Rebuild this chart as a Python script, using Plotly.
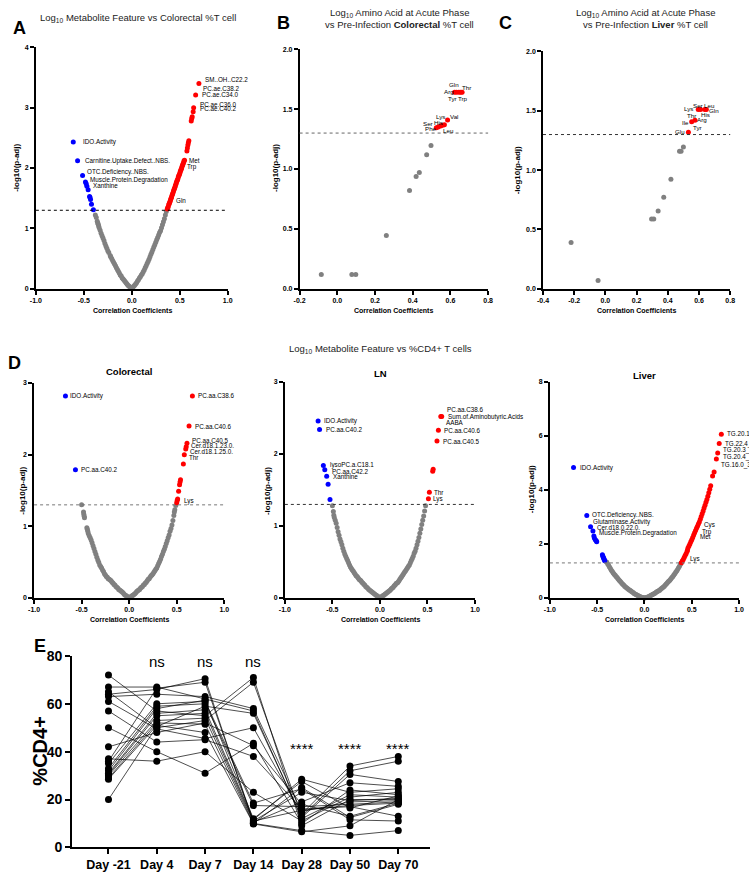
import plotly.graph_objects as go

W, H = 749, 875
FONT = "Liberation Sans, Arial, Helvetica, sans-serif"
GRAY, RED, BLUE = "#808080", "#ff0000", "#0000ff"
THRESH = 1.3  # -log10(0.05)

# ---------------- Panel A : Log10 metabolite feature vs colorectal %T cell ----------------
A_gray = [(-0.38,1.22),(-0.37,1.18),(-0.36,1.12),(-0.355,1.09),(-0.35,1.07),(-0.345,1.04),(-0.34,1.01),(-0.33,0.97),
          (-0.32,0.92),(-0.31,0.88),(-0.30,0.84),(-0.29,0.8),(-0.28,0.75),(-0.27,0.71),(-0.26,0.67),(-0.25,0.63),
          (-0.24,0.6),(-0.225,0.55),(-0.22,0.53),(-0.21,0.5),(-0.20,0.47),(-0.19,0.44),(-0.18,0.41),(-0.17,0.38),
          (-0.16,0.35),(-0.15,0.32),(-0.14,0.29),(-0.13,0.26),(-0.12,0.23),(-0.11,0.21),(-0.10,0.18),(-0.09,0.16),
          (-0.08,0.14),(-0.07,0.12),(-0.06,0.1),(-0.05,0.08),(-0.04,0.06),(-0.03,0.045),(-0.02,0.03),(-0.01,0.015),
          (0.0,0.0),(0.01,0.02),(0.02,0.04),(0.03,0.06),(0.04,0.08),(0.05,0.1),(0.06,0.13),(0.07,0.15),(0.08,0.18),
          (0.09,0.2),(0.10,0.23),(0.11,0.25),(0.12,0.28),(0.13,0.31),(0.14,0.35),(0.15,0.38),(0.16,0.42),(0.17,0.45),
          (0.18,0.49),(0.19,0.53),(0.20,0.57),(0.21,0.61),(0.22,0.65),(0.23,0.69),(0.24,0.73),(0.25,0.77),(0.26,0.81),
          (0.27,0.85),(0.28,0.89),(0.29,0.93),(0.30,0.96),(0.31,1.01),(0.32,1.06),(0.33,1.11),(0.34,1.16),(0.35,1.22),
          (0.36,1.28)]
A_red = [(0.37,1.32),(0.375,1.34),(0.38,1.36),(0.385,1.39),(0.39,1.41),(0.395,1.43),(0.40,1.45),(0.405,1.48),
         (0.41,1.5),(0.415,1.52),(0.42,1.55),(0.425,1.57),(0.43,1.59),(0.435,1.62),(0.44,1.64),(0.445,1.66),
         (0.45,1.68),(0.455,1.71),(0.46,1.73),(0.465,1.76),(0.47,1.78),(0.475,1.8),(0.48,1.82),(0.485,1.85),
         (0.49,1.87),(0.495,1.89),(0.50,1.91),(0.505,1.94),(0.51,1.96),(0.515,1.98),(0.52,2.0),(0.525,2.03),
         (0.53,2.05),(0.535,2.07),(0.54,2.09),(0.545,2.12),(0.55,2.13),(0.575,2.28),(0.58,2.33),(0.585,2.38),
         (0.59,2.42),(0.595,2.45),(0.62,2.78),(0.625,2.82),(0.63,2.85),(0.64,2.93),(0.645,3.0),(0.666,3.21),(0.70,3.40)]
A_blue = [(-0.61,2.43),(-0.565,2.12),(-0.513,1.875),(-0.483,1.77),(-0.475,1.74),(-0.468,1.7),(-0.455,1.64),
          (-0.44,1.53),(-0.435,1.51),(-0.43,1.48),(-0.42,1.4),(-0.40,1.31)]
A_lab_names = ["IDO.Activity", "Carnitine.Uptake.Defect..NBS.", "OTC.Deficiency..NBS.", "Muscle.Protein.Degradation",
               "Xanthine", "SM..OH..C22.2", "PC.ae.C38.2", "PC.ae.C34.0", "PC.ae.C36.0", "PC.ae.C40.2", "Met", "Trp", "Gln"]
A_lab_r = [-0.61, -0.565, -0.513, -0.483, -0.455, 0.70, 0.666, 0.666, 0.645, 0.64, 0.545, 0.545, 0.39]
A_lab_y = [2.43, 2.12, 1.875, 1.77, 1.64, 3.40, 3.21, 3.21, 3.0, 2.93, 2.12, 2.12, 1.41]

# ---------------- Panel B : amino acids, colorectal ----------------
B_gray = [(-0.085,0.12),(0.077,0.12),(0.098,0.12),(0.26,0.445),(0.383,0.82),(0.418,0.937),(0.435,0.97),
          (0.474,1.12),(0.497,1.197)]
B_red = [(0.525,1.345),(0.535,1.35),(0.548,1.36),(0.558,1.365),(0.568,1.37),(0.585,1.41),
         (0.622,1.64),(0.632,1.64),(0.645,1.64),(0.655,1.64),(0.662,1.64)]
B_lab_names = ["Gln", "Thr", "Arg", "Tyr", "Trp", "Lys", "Val", "Ser", "His", "Phe", "Leu"]
B_lab_r = [0.632, 0.662, 0.622, 0.645, 0.655, 0.548, 0.585, 0.525, 0.535, 0.525, 0.568]
B_lab_y = [1.64, 1.64, 1.64, 1.64, 1.64, 1.36, 1.41, 1.345, 1.35, 1.345, 1.37]

# ---------------- Panel C : amino acids, liver ----------------
C_gray = [(-0.22,0.39),(-0.047,0.07),(0.296,0.588),(0.31,0.588),(0.338,0.656),(0.374,0.772),(0.42,0.924),
          (0.475,1.159),(0.485,1.159),(0.5,1.195)]
C_red = [(0.532,1.319),(0.553,1.407),(0.574,1.42),(0.595,1.512),(0.61,1.512),(0.637,1.512),(0.647,1.512)]
C_lab_names = ["Lys", "Ser", "Leu", "His", "Gln", "Thr", "Arg", "Ile", "Tyr", "Glu"]
C_lab_r = [0.595, 0.61, 0.647, 0.647, 0.647, 0.553, 0.574, 0.553, 0.574, 0.532]
C_lab_y = [1.512, 1.512, 1.512, 1.512, 1.512, 1.407, 1.42, 1.407, 1.42, 1.319]

# ---------------- Panel D : metabolite feature vs %CD4+ T cells ----------------
Dc_gray = [(-0.5,1.3),(-0.48,1.2),(-0.477,1.17),(-0.473,1.14),(-0.47,1.12),(-0.445,0.98),(-0.44,0.96),(-0.435,0.93),
           (-0.43,0.9),(-0.42,0.87),(-0.41,0.84),(-0.40,0.81),(-0.39,0.77),(-0.38,0.73),(-0.37,0.69),(-0.36,0.65),
           (-0.35,0.61),(-0.34,0.57),(-0.33,0.53),(-0.32,0.5),(-0.31,0.46),(-0.30,0.44),(-0.29,0.42),(-0.28,0.39),
           (-0.27,0.37),(-0.26,0.34),(-0.25,0.32),(-0.24,0.3),(-0.23,0.29),(-0.22,0.27),(-0.21,0.26),(-0.20,0.25),
           (-0.19,0.24),(-0.18,0.22),(-0.17,0.21),(-0.16,0.19),(-0.15,0.18),(-0.14,0.16),(-0.13,0.15),(-0.12,0.14),
           (-0.11,0.12),(-0.10,0.11),(-0.09,0.1),(-0.08,0.09),(-0.07,0.08),(-0.06,0.065),(-0.05,0.05),(-0.04,0.04),
           (-0.03,0.03),(-0.02,0.02),(-0.01,0.01),(0.0,0.0),
           (0.01,0.01),(0.02,0.02),(0.03,0.03),(0.04,0.04),(0.05,0.05),(0.06,0.06),(0.07,0.075),(0.08,0.09),
           (0.09,0.1),(0.10,0.11),(0.11,0.12),(0.12,0.14),(0.13,0.15),(0.14,0.16),(0.15,0.18),(0.16,0.19),
           (0.17,0.21),(0.18,0.22),(0.19,0.24),(0.20,0.26),(0.21,0.27),(0.22,0.29),(0.23,0.31),(0.24,0.32),
           (0.25,0.34),(0.26,0.36),(0.27,0.38),(0.28,0.4),(0.29,0.42),(0.30,0.45),(0.31,0.48),(0.32,0.51),
           (0.33,0.54),(0.34,0.58),(0.35,0.61),(0.36,0.65),(0.37,0.68),(0.38,0.72),(0.39,0.76),(0.40,0.8),
           (0.41,0.84),(0.42,0.88),(0.43,0.93),(0.44,0.97),(0.45,1.02),(0.46,1.08),(0.47,1.15),(0.475,1.2),
           (0.48,1.23),(0.49,1.29)]
Dc_red = [(0.50,1.33),(0.505,1.36),(0.51,1.38),(0.52,1.49),(0.53,1.58),(0.535,1.62),(0.54,1.65),(0.57,1.87),
          (0.58,2.0),(0.595,2.08),(0.6,2.11),(0.608,2.16),(0.63,2.4),(0.665,2.82)]
Dc_blue = [(-0.67,2.82),(-0.565,1.79)]
Dc_lab_names = ["IDO.Activity", "PC.aa.C40.2", "PC.aa.C38.6", "PC.aa.C40.6", "PC.aa.C40.5", "Cer.d18.1.23.0.",
                "Cer.d18.1.25.0.", "Thr", "Lys"]
Dc_lab_r = [-0.67, -0.565, 0.665, 0.63, 0.608, 0.6, 0.595, 0.58, 0.505]
Dc_lab_y = [2.82, 1.79, 2.82, 2.4, 2.16, 2.11, 2.08, 2.0, 1.36]

Dn_gray = [(-0.5,1.28),(-0.49,1.2),(-0.485,1.15),(-0.48,1.12),(-0.47,1.08),(-0.46,1.04),(-0.45,0.98),(-0.44,0.92),
           (-0.43,0.87),(-0.42,0.82),(-0.41,0.78),(-0.40,0.74),(-0.39,0.69),(-0.38,0.65),(-0.37,0.61),(-0.36,0.58),
           (-0.35,0.55),(-0.34,0.52),(-0.33,0.49),(-0.32,0.46),(-0.31,0.43),(-0.30,0.41),(-0.29,0.39),(-0.28,0.37),
           (-0.27,0.35),(-0.26,0.33),(-0.25,0.31),(-0.24,0.3),(-0.23,0.28),(-0.22,0.26),(-0.21,0.25),(-0.20,0.24),
           (-0.19,0.22),(-0.18,0.21),(-0.17,0.19),(-0.16,0.18),(-0.15,0.16),(-0.14,0.15),(-0.13,0.14),(-0.12,0.12),
           (-0.11,0.11),(-0.10,0.1),(-0.09,0.09),(-0.08,0.08),(-0.07,0.07),(-0.06,0.06),(-0.05,0.05),(-0.04,0.04),
           (-0.03,0.03),(-0.02,0.02),(-0.01,0.01),(0.0,0.0),
           (0.01,0.01),(0.02,0.02),(0.03,0.03),(0.04,0.04),(0.05,0.05),(0.06,0.06),(0.07,0.07),(0.08,0.08),
           (0.09,0.09),(0.10,0.1),(0.11,0.11),(0.12,0.13),(0.13,0.14),(0.14,0.15),(0.15,0.17),(0.16,0.18),
           (0.17,0.2),(0.18,0.21),(0.19,0.22),(0.20,0.24),(0.21,0.26),(0.22,0.28),(0.23,0.3),(0.24,0.32),
           (0.25,0.34),(0.26,0.36),(0.27,0.38),(0.28,0.4),(0.29,0.42),(0.30,0.44),(0.31,0.46),(0.32,0.49),
           (0.33,0.52),(0.34,0.55),(0.35,0.58),(0.36,0.62),(0.37,0.65),(0.38,0.69),(0.39,0.74),(0.40,0.79),
           (0.41,0.84),(0.42,0.9),(0.43,0.96),(0.44,1.02),(0.45,1.08),(0.46,1.14),(0.47,1.21),(0.48,1.28)]
Dn_red = [(0.64,2.52),(0.65,2.52),(0.615,2.33),(0.6,2.18),(0.555,1.76),(0.56,1.79),(0.52,1.47),(0.51,1.38)]
Dn_blue = [(-0.65,2.46),(-0.635,2.34),(-0.595,1.84),(-0.58,1.78),(-0.56,1.69),(-0.545,1.58),(-0.525,1.37)]
Dn_lab_names = ["IDO.Activity", "PC.aa.C40.2", "lysoPC.a.C18.1", "PC.aa.C42.2", "Xanthine", "PC.aa.C38.6",
                "Sum.of.Aminobutyric.Acids", "AABA", "PC.aa.C40.6", "PC.aa.C40.5", "Thr", "Lys"]
Dn_lab_r = [-0.65, -0.635, -0.595, -0.58, -0.56, 0.65, 0.65, 0.65, 0.615, 0.6, 0.52, 0.51]
Dn_lab_y = [2.46, 2.34, 1.84, 1.78, 1.69, 2.52, 2.52, 2.52, 2.33, 2.18, 1.47, 1.38]

Dl_gray = [(-0.40,1.33),(-0.39,1.27),(-0.38,1.21),(-0.37,1.15),(-0.36,1.09),(-0.35,1.03),(-0.34,0.98),(-0.33,0.93),
           (-0.32,0.88),(-0.31,0.84),(-0.30,0.8),(-0.29,0.76),(-0.28,0.71),(-0.27,0.67),(-0.26,0.63),(-0.25,0.59),
           (-0.24,0.55),(-0.23,0.51),(-0.22,0.48),(-0.21,0.44),(-0.20,0.41),(-0.19,0.38),(-0.18,0.35),(-0.17,0.32),
           (-0.16,0.3),(-0.15,0.28),(-0.14,0.25),(-0.13,0.22),(-0.12,0.2),(-0.11,0.17),(-0.10,0.15),(-0.09,0.13),
           (-0.08,0.11),(-0.07,0.09),(-0.06,0.07),(-0.05,0.06),(-0.04,0.04),(-0.03,0.03),(-0.02,0.02),(-0.01,0.01),
           (0.0,0.0),(0.01,0.01),(0.02,0.02),(0.03,0.03),(0.04,0.05),(0.05,0.06),(0.06,0.08),(0.07,0.1),(0.08,0.12),
           (0.09,0.14),(0.10,0.16),(0.11,0.18),(0.12,0.2),(0.13,0.23),(0.14,0.25),(0.15,0.27),(0.16,0.29),(0.17,0.32),
           (0.18,0.35),(0.19,0.38),(0.20,0.41),(0.21,0.44),(0.22,0.48),(0.23,0.52),(0.24,0.56),(0.25,0.6),(0.26,0.63),
           (0.27,0.67),(0.28,0.71),(0.29,0.76),(0.30,0.8),(0.31,0.85),(0.32,0.9),(0.33,0.95),(0.34,1.0),(0.35,1.06),
           (0.36,1.12),(0.37,1.18),(0.38,1.25),(0.385,1.29)]
Dl_red = [(0.39,1.31),(0.40,1.37),(0.41,1.43),(0.42,1.5),(0.43,1.57),(0.44,1.64),(0.45,1.72),(0.455,1.78),(0.46,1.85),
          (0.47,1.93),(0.48,2.0),(0.49,2.08),(0.50,2.16),(0.51,2.24),(0.52,2.33),(0.53,2.42),(0.54,2.5),(0.55,2.58),
          (0.56,2.66),(0.57,2.74),(0.58,2.82),(0.59,2.92),(0.60,3.02),(0.61,3.12),(0.62,3.22),(0.63,3.33),(0.64,3.44),
          (0.65,3.55),(0.66,3.65),(0.67,3.77),(0.68,3.9),(0.69,4.03),(0.70,4.16),(0.72,4.52),(0.736,4.67),(0.76,5.15),
          (0.774,5.37),(0.79,5.72),(0.8125,6.07)]
Dl_blue = [(-0.75,4.83),(-0.61,3.06),(-0.57,2.64),(-0.545,2.48),(-0.535,2.3),(-0.53,2.22),(-0.52,2.16),(-0.51,2.12),
           (-0.505,2.08),(-0.445,1.6),(-0.44,1.55),(-0.435,1.5),(-0.43,1.46),(-0.425,1.42),(-0.42,1.38)]
Dl_lab_names = ["IDO.Activity", "OTC.Deficiency..NBS.", "Glutaminase.Activity", "Cer.d18.0.22.0.",
                "Muscle.Protein.Degradation", "TG.20.1_36.3", "TG.22.4_34.1", "TG.20.3_36.4", "TG.20.4_36.2",
                "TG.16.0_38.6", "Cys", "Trp", "Met", "Lys"]
Dl_lab_r = [-0.75, -0.61, -0.57, -0.545, -0.535, 0.8125, 0.79, 0.774, 0.76, 0.76, 0.575, 0.56, 0.55, 0.40]
Dl_lab_y = [4.83, 3.06, 2.64, 2.48, 2.3, 6.07, 5.72, 5.37, 5.15, 5.15, 2.78, 2.66, 2.58, 1.37]

# ---------------- Panel E : %CD4+ over time ----------------
E_days = ["Day -21", "Day 4", "Day 7", "Day 14", "Day 28", "Day 50", "Day 70"]
E_subjects = [
    [72, 57, 55, 71, 9, 20, 20],
    [67, 67, 62, 57, 12, 22, 21],
    [65, 50, 53, 69, 13, 32, 36],
    [64, 66, 70.5, 10, 25, 12.5, 18],
    [63, 64, 63, 58, 15, 19, 19.5],
    [61, 49.5, 45.5, 50, 14, 34, 38],
    [57, 44, 45, 38, 16, 17, 13],
    [50, 40, 31, 43.5, 10, 24, 22],
    [42, 48, 52, 42.5, 18, 13, 18.5],
    [37, 36, 40, 23, 11, 21, 23],
    [36, 66.5, 69, 11, 23, 19.5, 20.5],
    [35, 60, 61, 18.5, 24.5, 11.5, 11],
    [33, 59, 60, 17.5, 17, 18, 19],
    [32, 58, 61.5, 12, 27.5, 16.5, 21.5],
    [31, 56, 57.5, 11.5, 28.5, 23, 24.5],
    [30.5, 55, 56, 11, 15.5, 17.5, 18.5],
    [30, 53, 54, 10.5, 19, 27, 25.5],
    [29, 52, 51.5, 10, 7, 5, 7],
    [28.5, 51, 48, 9.8, 6.5, 9, 20],
    [20, 50.5, 59, 56, 12.5, 30.5, 27.5],
]
E_sig = ["", "ns", "ns", "ns", "****", "****", "****"]

# ---------------- styling (positions in pixels / offsets) ----------------
A_off = [(8,0),(5,0),(2,4),(3,2),(3,4),(4,4),(5,6),(4,0),(4,3),(5,3),(3,0),(1,-6),(5,3)]
B_off = [(-2,8),(4,5),(-6,1),(-6.5,-6),(2.5,-6),(0,9),(6,3),(-8.6,4),(0.5,5),(-5.6,-1),(4,-6)]
C_off = [(-10,0.6),(-3,4),(3.5,4),(-0.5,-5),(8,-1.5),(-0.5,6),(7,1),(-6,-1),(3,-7),(-8.5,1)]
Dc_off = [(3,0),(3.5,0),(4,0),(4,0),(3,2.5),(3,1),(2.6,-2.5),(3,-3),(4.6,0)]
Dn_off = [(4,0),(4.5,0),(4.5,1),(5,-1.5),(4.5,0),(3,7),(4,0),(2,-6),(4,0),(4,0),(3,0),(3,0)]
Dl_off = [(4,0),(3.3,0),(0,5),(2,3.5),(3.4,3),(4,0),(4,0),(3.4,2.6),(4.7,2),(2.3,-5.7),(3.5,-2.2),(2.2,-6),(1.5,-8.3),(5.3,1.6)]
LAB_SIZE = 6.3


def xdom(a, b):
    return [a / W, b / W]


def ydom(top, bottom):
    return [1 - bottom / H, 1 - top / H]


def axis(domain, rng, tickvals, ticktext, anchor, size=7, lw=1.5, ticklen=4, ttype=None):
    d = dict(domain=domain, range=rng, tickvals=tickvals, ticktext=ticktext, anchor=anchor,
             showline=True, linecolor="black", linewidth=lw, ticks="outside", ticklen=ticklen,
             tickwidth=lw, tickcolor="black", showgrid=False, zeroline=False, fixedrange=True,
             tickfont=dict(family=FONT, size=size, color="black", weight="bold"))
    if ttype:
        d["type"] = ttype
    return d


fig = go.Figure()


def pts(pairs, color, xa, ya, size=5):
    fig.add_trace(go.Scatter(x=[p[0] for p in pairs], y=[p[1] for p in pairs], mode="markers",
                             marker=dict(color=color, size=size, line=dict(width=0)),
                             xaxis=xa, yaxis=ya, cliponaxis=False, showlegend=False, hoverinfo="skip"))


annotations = []
shapes = []


def labels(names, rs, ys, offs, xa, ya, anchor="left", size=LAB_SIZE):
    for n, r, y, (dx, dy) in zip(names, rs, ys, offs):
        annotations.append(dict(text=n, x=r, y=y, xref=xa, yref=ya, xanchor=anchor, yanchor="middle",
                                xshift=dx, yshift=dy, showarrow=False,
                                font=dict(family=FONT, size=size, color="black")))


def thresh(xa, ya, color):
    shapes.append(dict(type="line", xref=xa + " domain", yref=ya, x0=0, x1=1, y0=THRESH, y1=THRESH,
                       line=dict(color=color, width=1, dash="dot")))


# Panel A
pts(A_gray, GRAY, "x", "y"); pts(A_red, RED, "x", "y"); pts(A_blue, BLUE, "x", "y")
labels(A_lab_names, A_lab_r, A_lab_y, A_off, "x", "y")
thresh("x", "y", "black")
# Panel B
pts(B_gray, GRAY, "x2", "y2"); pts(B_red, RED, "x2", "y2")
labels(B_lab_names, B_lab_r, B_lab_y, B_off, "x2", "y2", anchor="center", size=6.2)
thresh("x2", "y2", "#666")
# Panel C
pts(C_gray, GRAY, "x3", "y3"); pts(C_red, RED, "x3", "y3")
labels(C_lab_names, C_lab_r, C_lab_y, C_off, "x3", "y3", anchor="center", size=6.2)
thresh("x3", "y3", "#333")
# Panel D
pts(Dc_gray, GRAY, "x4", "y4"); pts(Dc_red, RED, "x4", "y4"); pts(Dc_blue, BLUE, "x4", "y4")
labels(Dc_lab_names, Dc_lab_r, Dc_lab_y, Dc_off, "x4", "y4")
thresh("x4", "y4", "#777")
pts(Dn_gray, GRAY, "x5", "y5"); pts(Dn_red, RED, "x5", "y5"); pts(Dn_blue, BLUE, "x5", "y5")
labels(Dn_lab_names, Dn_lab_r, Dn_lab_y, Dn_off, "x5", "y5")
thresh("x5", "y5", "#333")
pts(Dl_gray, GRAY, "x6", "y6"); pts(Dl_red, RED, "x6", "y6"); pts(Dl_blue, BLUE, "x6", "y6")
labels(Dl_lab_names, Dl_lab_r, Dl_lab_y, Dl_off, "x6", "y6")
thresh("x6", "y6", "#777")

# Panel E
for s in E_subjects:
    fig.add_trace(go.Scatter(x=E_days, y=s, mode="lines+markers", xaxis="x7", yaxis="y7",
                             line=dict(color="black", width=0.7), marker=dict(color="black", size=7),
                             cliponaxis=False, showlegend=False, hoverinfo="skip"))
for d, sig in zip(E_days, E_sig):
    if sig:
        annotations.append(dict(text=sig, x=d, y=(77.5 if sig == "ns" else 41.5), xref="x7", yref="y7",
                                showarrow=False, xanchor="center", yanchor="middle",
                                font=dict(family=FONT, size=15, color="black")))

# Texts in pixel positions
def ptext(text, px, py, size, bold=False, angle=0, anchor="center", color="black"):
    annotations.append(dict(text=text, x=px / W, y=1 - py / H, xref="paper", yref="paper", showarrow=False,
                            xanchor=anchor, yanchor="middle", textangle=angle,
                            font=dict(family=FONT, size=size, color=color, weight=("bold" if bold else "normal"))))

# panel letters
ptext("A", 14, 20, 18, True)
ptext("B", 282, 15, 18, True)
ptext("C", 507, 15, 18, True)
ptext("D", 9, 362, 18, True)
ptext("E", 34, 650, 18, True)
# titles
ptext("Log<sub>10</sub> Metabolite Feature vs Colorectal %T cell", 134, 10, 9.5, color="#222")
ptext("Log<sub>10</sub> Amino Acid at Acute Phase", 399, 5, 9.5, color="#222")
ptext("vs Pre-Infection <b>Colorectal</b> %T cell", 399, 17, 9.5, color="#222")
ptext("Log<sub>10</sub> Amino Acid at Acute Phase", 649, 5, 9.5, color="#222")
ptext("vs Pre-Infection <b>Liver</b> %T cell", 649, 17, 9.5, color="#222")
ptext("Log<sub>10</sub> Metabolite Feature vs %CD4+ T cells", 380, 347, 9.5, color="#222")
ptext("Colorectal", 125, 370, 9.5, True)
ptext("LN", 380, 372, 9.5, True)
ptext("Liver", 648, 374, 9.5, True)
# y titles
for px, py in [(10, 163), (273, 163), (520, 165), (16, 492), (265, 492), (533, 490)]:
    ptext("-log10(p-adj)", px, py, 8, True, angle=-90)
# x titles
for px, py in [(128, 308), (393, 308), (640, 308), (125, 623), (380, 623), (648, 623)]:
    ptext("Correlation Coefficients", px, py, 7, True)
ptext("%CD4+", 35, 757, 20, True, angle=-90)

r1 = [-1, -0.5, 0, 0.5, 1]
r1t = ["-1.0", "-0.5", "0.0", "0.5", "1.0"]
rb = [-0.2, 0, 0.2, 0.4, 0.6, 0.8]
rbt = ["-0.2", "0.0", "0.2", "0.4", "0.6", "0.8"]
rc = [-0.4, -0.2, 0, 0.2, 0.4, 0.6, 0.8]
rct = ["-0.4", "-0.2", "0.0", "0.2", "0.4", "0.6", "0.8"]
yb = [0, 0.5, 1, 1.5, 2]
ybt = ["0.0", "0.5", "1.0", "1.5", "2.0"]

fig.update_layout(
    width=W, height=H, margin=dict(l=0, r=0, t=0, b=0), plot_bgcolor="white", paper_bgcolor="white",
    font=dict(family=FONT), showlegend=False,
    xaxis=axis(xdom(30.3, 225), [-1, 1], r1, r1t, "y"),
    yaxis=axis(ydom(40, 286), [0, 4], [0, 1, 2, 3, 4], ["0", "1", "2", "3", "4"], "x"),
    xaxis2=axis(xdom(298, 489.3), [-0.2, 0.8], rb, rbt, "y2"),
    yaxis2=axis(ydom(42, 286), [0, 2], yb, ybt, "x2"),
    xaxis3=axis(xdom(545, 735), [-0.4, 0.8], rc, rct, "y3"),
    yaxis3=axis(ydom(44.3, 286), [0, 2], yb, ybt, "x3"),
    xaxis4=axis(xdom(28.5, 221.5), [-1, 1], r1, r1t, "y4"),
    yaxis4=axis(ydom(382, 601), [0, 3], [0, 1, 2, 3], ["0", "1", "2", "3"], "x4"),
    xaxis5=axis(xdom(283, 476), [-1, 1], r1, r1t, "y5"),
    yaxis5=axis(ydom(381, 601), [0, 3], [0, 1, 2, 3], ["0", "1", "2", "3"], "x5"),
    xaxis6=axis(xdom(552, 744), [-1, 1], r1, r1t, "y6"),
    yaxis6=axis(ydom(381, 601), [0, 8], [0, 2, 4, 6, 8], ["0", "2", "4", "6", "8"], "x6"),
    xaxis7=axis(xdom(67, 430), [-0.755, 6.65], E_days, E_days, "y7", size=12.5, lw=2, ticklen=5,
                ttype="category"),
    yaxis7=axis(ydom(660, 855), [0, 80], [0, 20, 40, 60, 80], ["0", "20", "40", "60", "80"], "x7",
                size=14, lw=2, ticklen=5),
    annotations=annotations, shapes=shapes,
)

fig.write_html("out.html")
